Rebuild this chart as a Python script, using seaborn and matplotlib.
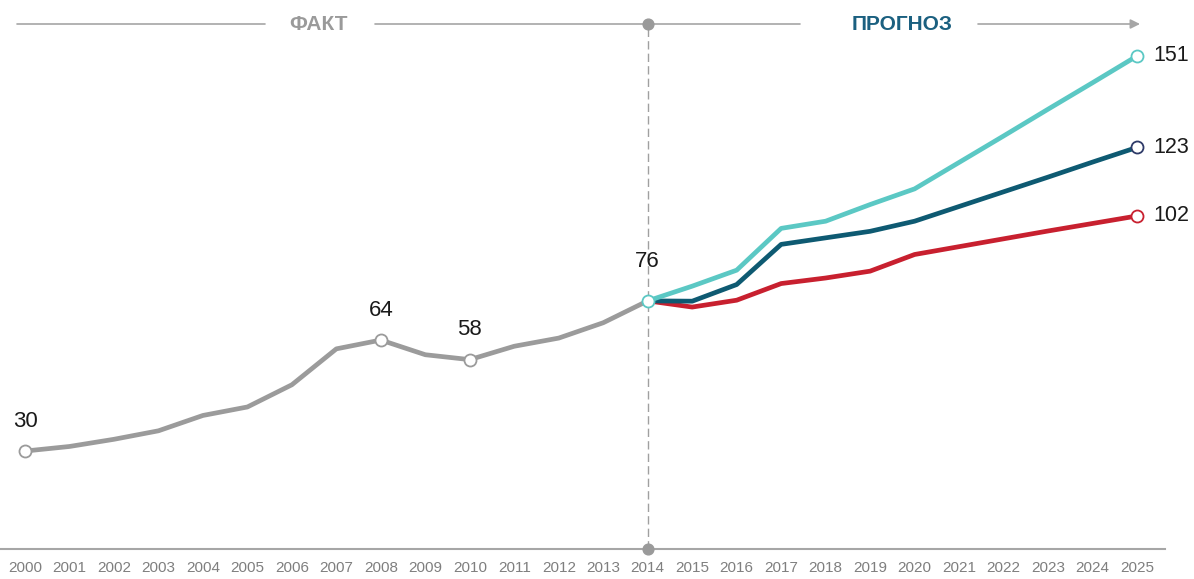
import matplotlib
matplotlib.use("Agg")
import matplotlib.pyplot as plt
import numpy as np
import pandas as pd
import seaborn as sns

# --- data ---
years_fact = list(range(2000, 2015))
fact = [30, 31.4, 33.6, 36.2, 40.9, 43.5, 50.3, 61.3, 64, 59.5, 58, 62.1, 64.6, 69.3, 76]

years_fc = list(range(2014, 2026))
fc_high = [76, 80.5, 85.4, 98.2, 100.4, 105.5, 110.3, 118.4, 126.5, 134.7, 142.8, 151]
fc_base = [76, 75.9, 81.0, 93.3, 95.3, 97.3, 100.4, 104.9, 109.4, 113.9, 118.5, 123]
fc_low = [76, 74.1, 76.2, 81.3, 83.0, 85.1, 90.2, 92.6, 95.0, 97.4, 99.7, 102]

fact_labels = {2000: 30, 2008: 64, 2010: 58, 2014: 76}
tick_years = list(range(2000, 2026))

GREY = "#9b9b9b"
CYAN = "#5bc8c4"
TEAL = "#0e5a72"
RED = "#c8202f"
HEAD_BLUE = "#1b6080"

df = pd.concat([
    pd.DataFrame({"year": years_fact, "value": fact, "series": "fact"}),
    pd.DataFrame({"year": years_fc, "value": fc_low, "series": "low"}),
    pd.DataFrame({"year": years_fc, "value": fc_base, "series": "base"}),
    pd.DataFrame({"year": years_fc, "value": fc_high, "series": "high"}),
])
palette = {"fact": GREY, "low": RED, "base": TEAL, "high": CYAN}

sns.set_style("white")
plt.rcParams["font.family"] = ["Liberation Sans", "DejaVu Sans"]

fig = plt.figure(figsize=(11.94, 5.79), dpi=100)
# pixel layout: 2000 -> x=25px, 2025 -> x=1137px, value 0 -> y=549px from top
px_per_year = (1137 - 25) / 25
ax = fig.add_axes([0, 30 / 579, 1165 / 1194, 549 / 579])
ax.set_xlim(2000 - 25 / px_per_year, 2025 + 28 / px_per_year)
ax.set_ylim(0, 549 / 3.265)

sns.lineplot(data=df, x="year", y="value", hue="series", palette=palette,
             lw=3.4, legend=False, ax=ax, clip_on=False, zorder=3)

# open circle markers
mk = dict(s=75, facecolor="white", linewidth=1.3, zorder=5, clip_on=False)
for yr, v in fact_labels.items():
    ec = CYAN if yr == 2014 else GREY
    ax.scatter([yr], [v], edgecolor=ec, **mk)
ax.scatter([2025], [fc_high[-1]], edgecolor=CYAN, **mk)
ax.scatter([2025], [fc_base[-1]], edgecolor="#2e3a68", **mk)
ax.scatter([2025], [fc_low[-1]], edgecolor=RED, **mk)

# value labels
offsets = {2000: 30, 2008: 30, 2010: 30, 2014: 39}
for yr, v in fact_labels.items():
    ax.annotate(str(v), (yr, v), xytext=(0, offsets[yr]), textcoords="offset pixels",
                ha="center", va="center", fontsize=16, color="#1a1a1a")
for vals in (fc_high, fc_base, fc_low):
    ax.annotate(str(int(vals[-1])), (2025, vals[-1]), xytext=(16, 0),
                textcoords="offset pixels", ha="left", va="center",
                fontsize=15.5, color="#1a1a1a", annotation_clip=False)

# divider between fact and forecast
top = ax.get_ylim()[1] - 24 / 3.265
ax.plot([2014, 2014], [0, top], color="#a0a0a0", lw=1, ls=(0, (6, 3)), zorder=1, clip_on=False)
ax.scatter([2014, 2014], [0, top], s=60, color="#9a9a9a", zorder=6, clip_on=False)


def yr(px):
    return 2000 + (px - 25) / px_per_year


hl = dict(color="#a6a6a6", lw=1.2, clip_on=False, zorder=1)
ax.plot([yr(17), yr(265)], [top, top], **hl)
ax.plot([yr(375), yr(800)], [top, top], **hl)
ax.annotate("", xy=(yr(1140), top), xytext=(yr(978), top),
            arrowprops=dict(arrowstyle="-|>", color="#a6a6a6", lw=1.2,
                            mutation_scale=14, shrinkA=0, shrinkB=0),
            annotation_clip=False)
ax.text(yr(319), top, "ФАКТ", ha="center", va="center", fontsize=15,
        fontweight="bold", color="#9a9a9a")
ax.text(yr(902), top, "ПРОГНОЗ", ha="center", va="center", fontsize=15,
        fontweight="bold", color=HEAD_BLUE)

# axes styling
ax.set_xticks(tick_years)
ax.set_xticklabels([str(t) for t in tick_years])
ax.tick_params(axis="x", length=0, pad=9, labelsize=11, labelcolor="#7f7f7f")
ax.set_yticks([])
ax.set_xlabel("")
ax.set_ylabel("")
for s in ("top", "right", "left"):
    ax.spines[s].set_visible(False)
ax.spines["bottom"].set_color("#a6a6a6")
ax.spines["bottom"].set_linewidth(1.5)

fig.savefig("out.png", dpi=100)
